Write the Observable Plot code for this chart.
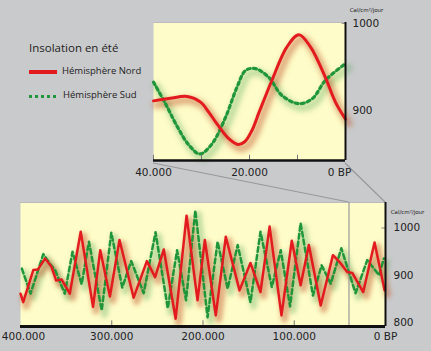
<!DOCTYPE html>
<html><head><meta charset="utf-8">
<script src="https://cdn.jsdelivr.net/npm/d3@7"></script>
<script src="https://cdn.jsdelivr.net/npm/@observablehq/plot@0.6"></script>
<style>
body{margin:0;background:#c9cacc;}
#wrap{position:relative;width:431px;height:351px;overflow:hidden;background:#c9cacc;}
#wrap svg{position:absolute;overflow:visible;}
</style></head><body><div id="wrap"></div>
<script>
// ---- data (years in thousands BP, insolation in cal/cm²/jour) ----
const topNordYears  = [40, 36.5, 33, 30.2, 28.5, 26.7, 24.2, 22.4, 21, 19.5, 18, 15.3, 12.2, 9.7, 7.3, 4.2, 2.1, 0];
const topNordValues = [911, 914, 916, 909.5, 898, 884, 867, 861, 864, 877, 898, 935, 973, 987, 973, 938, 909.6, 890];
const topSudYears   = [40, 37.5, 35, 32.6, 30.3, 27.8, 25, 22.6, 20.8, 18.75, 16, 13.2, 9.7, 6.9, 4.2, 0];
const topSudValues  = [932.5, 907.7, 881, 860, 850, 861.7, 892, 926.8, 946, 948, 938, 917, 907.7, 913.5, 934.5, 953.7];

const botNordYears  = [400, 397, 386, 381, 373, 366, 361, 355, 346, 334, 320.5, 312.6, 302, 291.5, 276, 261.5, 252.5, 243, 230, 218, 206, 198, 186, 175, 160, 148, 137, 127, 114, 102.7, 93, 84, 71, 57.6, 49, 42, 36.4, 24.4, 12, 1];
const botNordValues = [861, 843, 911, 912, 935.5, 918, 889, 891, 861, 992, 833, 953, 855, 974.5, 852.5, 930, 896, 954.5, 808, 1026, 847, 974.5, 815, 981.5, 868, 926, 864.5, 1003, 815, 973, 879, 964, 836, 942.5, 925, 907, 905, 864.5, 969.5, 868];
const botSudYears   = [398.5, 389, 375, 368, 362, 351.5, 343, 333, 325, 311, 300.5, 288.5, 278.7, 265, 252, 238.6, 228.4, 218.6, 208.4, 195, 184, 173, 162, 148, 137, 124.6, 114.8, 104.6, 93, 79.5, 70, 60, 48.4, 32.8, 20, 7, 1.8];
const botSudValues  = [914, 861, 944.7, 925, 910.6, 861, 949.6, 881, 971, 825.5, 990, 874, 930, 862, 991, 830, 953, 847, 1037, 811, 971, 871.7, 964, 843, 992, 875, 953, 834, 1010, 857, 921, 882, 957, 862, 932, 900, 935.5];

const topTickYears  = [40, 30, 20, 10];
const topLabelYears = [40, 20];
const topLabels     = ["40.000", "20.000"];
const topYTicks     = [900, 1000];
const botTickYears  = [300, 200, 100];
const botLabelYears = [300, 200, 100, 0];
const botLabels     = ["300.000", "200.000", "100.000", "0 BP"];
const botYTicks     = [800, 900, 1000];
const units = "Cal/cm²/jour";
const legendTitle = "Insolation en été";
const seriesNames = ["Hémisphère Nord", "Hémisphère Sud"];

const yellow = "#fefcc8", red = "#e31b1f", green = "#20963a";
const tickFont = "DejaVu Sans, sans-serif";
const wrap = document.getElementById("wrap");

const pts = (xs, vs) => xs.map((x, i) => ({x, v: vs[i]}));

function addBlur(svg, id, sd, n) {
  const s = d3.select(svg);
  s.append("defs").append("filter").attr("id", id)
    .attr("x", "-10%").attr("y", "-20%").attr("width", "120%").attr("height", "140%")
    .append("feGaussianBlur").attr("stdDeviation", sd);
  s.selectAll('g[aria-label="line"]').filter((d, i) => i < n).attr("filter", `url(#${id})`);
}

// ---- connectors overlay (bottom layer) ----
const over = d3.select(wrap).append("svg").attr("width", 431).attr("height", 351).style("left", 0).style("top", 0);

// ---- top panel ----
const tY = [842.5, 1001];
const topPlot = Plot.plot({
  width: 331, height: 185,
  marginLeft: 53, marginRight: 86, marginTop: 22, marginBottom: 25,
  x: {domain: [40, 0], axis: null},
  y: {domain: tY, axis: null},
  style: {background: "transparent", overflow: "visible"},
  marks: [
    Plot.frame({fill: yellow}),
    Plot.ruleY([tY[1]], {stroke: "#bbb", strokeWidth: 1}),
    Plot.line(pts(topSudYears, topSudValues), {x: "x", y: "v", curve: "catmull-rom", stroke: "#5aa85a", strokeOpacity: 0.35, strokeWidth: 8, dx: 3, dy: 4}),
    Plot.line(pts(topNordYears, topNordValues), {x: "x", y: "v", curve: "catmull-rom", stroke: "#c0582c", strokeOpacity: 0.45, strokeWidth: 8, dx: 3, dy: 4}),
    Plot.line(pts(topSudYears, topSudValues), {x: "x", y: "v", curve: "catmull-rom", stroke: green, strokeWidth: 3.2, strokeDasharray: "3,3.2"}),
    Plot.line(pts(topNordYears, topNordValues), {x: "x", y: "v", curve: "catmull-rom", stroke: red, strokeWidth: 3}),
    Plot.ruleX(topTickYears, {y1: tY[0], y2: tY[0] + 6, stroke: "#777", strokeWidth: 1}),
    Plot.ruleY([1000], {x1: 0, x2: 0.7, stroke: "#888", strokeWidth: 1}),
    Plot.ruleY([tY[0]], {stroke: "#111", strokeWidth: 2.5}),
    Plot.ruleX([0], {stroke: "#111", strokeWidth: 2}),
    Plot.text(topLabelYears, {x: d => d, y: tY[0], text: (d, i) => topLabels[i], dy: 12, fontSize: 10.5, fontFamily: tickFont, fill: "#222"}),
    Plot.text([0], {x: 0, y: tY[0], text: () => "0 BP", dy: 12, dx: -6, fontSize: 10.5, fontFamily: tickFont, fill: "#222"}),
    Plot.text(topYTicks, {x: 0, y: d => d, text: d => String(d), textAnchor: "start", dx: 7, fontSize: 10.5, fontFamily: tickFont, fill: "#222"}),
    Plot.text([units], {x: 0, y: tY[1], text: d => d, dx: 21, dy: -12, fontSize: 5.5, fontFamily: tickFont, fill: "#222"})
  ]
});
addBlur(topPlot, "blurT", 2.6, 2);
topPlot.style.left = "100px"; topPlot.style.top = "0px";
wrap.appendChild(topPlot);

// ---- bottom panel ----
const bY = [791.5, 1054];
const botPlot = Plot.plot({
  width: 431, height: 161,
  marginLeft: 20, marginRight: 46, marginTop: 12, marginBottom: 25,
  x: {domain: [400, 0], axis: null},
  y: {domain: bY, axis: null},
  style: {background: "transparent", overflow: "visible"},
  marks: [
    Plot.frame({fill: yellow}),
    Plot.ruleY([bY[1]], {stroke: "#bbb", strokeWidth: 1}),
    Plot.line(pts(botSudYears, botSudValues), {x: "x", y: "v", stroke: "#5aa85a", strokeOpacity: 0.35, strokeWidth: 7, dx: 3, dy: 4, strokeLinejoin: "round"}),
    Plot.line(pts(botNordYears, botNordValues), {x: "x", y: "v", stroke: "#c0582c", strokeOpacity: 0.45, strokeWidth: 7, dx: 3, dy: 4, strokeLinejoin: "round"}),
    Plot.ruleX([40], {stroke: "#9a9a9a", strokeWidth: 1.2}),
    Plot.line(pts(botSudYears, botSudValues), {x: "x", y: "v", stroke: green, strokeWidth: 2.5, strokeDasharray: "5,3", strokeLinejoin: "round"}),
    Plot.line(pts(botNordYears, botNordValues), {x: "x", y: "v", stroke: red, strokeWidth: 2.5, strokeLinejoin: "round"}),
    Plot.ruleX(botTickYears, {y1: bY[0], y2: bY[0] + 12, stroke: "#777", strokeWidth: 1}),
    Plot.ruleY([1000], {x1: 0, x2: 4, stroke: "#888", strokeWidth: 1}),
    Plot.ruleY([bY[0]], {stroke: "#111", strokeWidth: 3}),
    Plot.ruleX([0], {stroke: "#111", strokeWidth: 2}),
    Plot.text([400], {x: d => d, y: bY[0], text: () => "400.000", dy: 10, dx: 3, fontSize: 10.5, fontFamily: tickFont, fill: "#222"}),
    Plot.text(botLabelYears, {x: d => d, y: bY[0], text: (d, i) => botLabels[i], dy: 10, fontSize: 10.5, fontFamily: tickFont, fill: "#222"}),
    Plot.text(botYTicks, {x: 0, y: d => d, text: d => String(d), textAnchor: "start", dx: 8, fontSize: 10.5, fontFamily: tickFont, fill: "#222"}),
    Plot.text([units], {x: 0, y: bY[1], text: d => d, dx: 22, dy: 10, fontSize: 5.5, fontFamily: tickFont, fill: "#222"})
  ]
});
addBlur(botPlot, "blurB", 2.2, 2);
botPlot.style.left = "0px"; botPlot.style.top = "190px";
wrap.appendChild(botPlot);

// connectors computed from both panels' scales
const tx = topPlot.scale("x"), bx = botPlot.scale("x");
const tyBottom = 185 - 25 + 3, byTop = 190 + 12;
over.append("line").attr("x1", 100 + tx.apply(40)).attr("y1", tyBottom).attr("x2", bx.apply(40)).attr("y2", byTop)
  .attr("stroke", "#999").attr("stroke-width", 1.2);
over.append("line").attr("x1", 100 + tx.apply(0)).attr("y1", tyBottom).attr("x2", bx.apply(0)).attr("y2", byTop)
  .attr("stroke", "#999").attr("stroke-width", 1.2);

// ---- legend ----
const leg = d3.select(wrap).append("svg").attr("width", 431).attr("height", 351).style("left", 0).style("top", 0)
  .style("font-family", "'Open Sans', sans-serif").style("pointer-events", "none");
leg.append("text").attr("x", 29).attr("y", 52).attr("font-size", 11.5).attr("fill", "#222").text(legendTitle);
leg.append("line").attr("x1", 29).attr("x2", 57).attr("y1", 72).attr("y2", 72).attr("stroke", red).attr("stroke-width", 4);
leg.append("text").attr("x", 62).attr("y", 74).attr("font-size", 9.5).attr("fill", "#222").text(seriesNames[0]);
leg.append("line").attr("x1", 29).attr("x2", 58).attr("y1", 96.5).attr("y2", 96.5).attr("stroke", green).attr("stroke-width", 3).attr("stroke-dasharray", "3,3");
leg.append("text").attr("x", 63).attr("y", 98).attr("font-size", 9.5).attr("fill", "#222").text(seriesNames[1]);
</script></body></html>
